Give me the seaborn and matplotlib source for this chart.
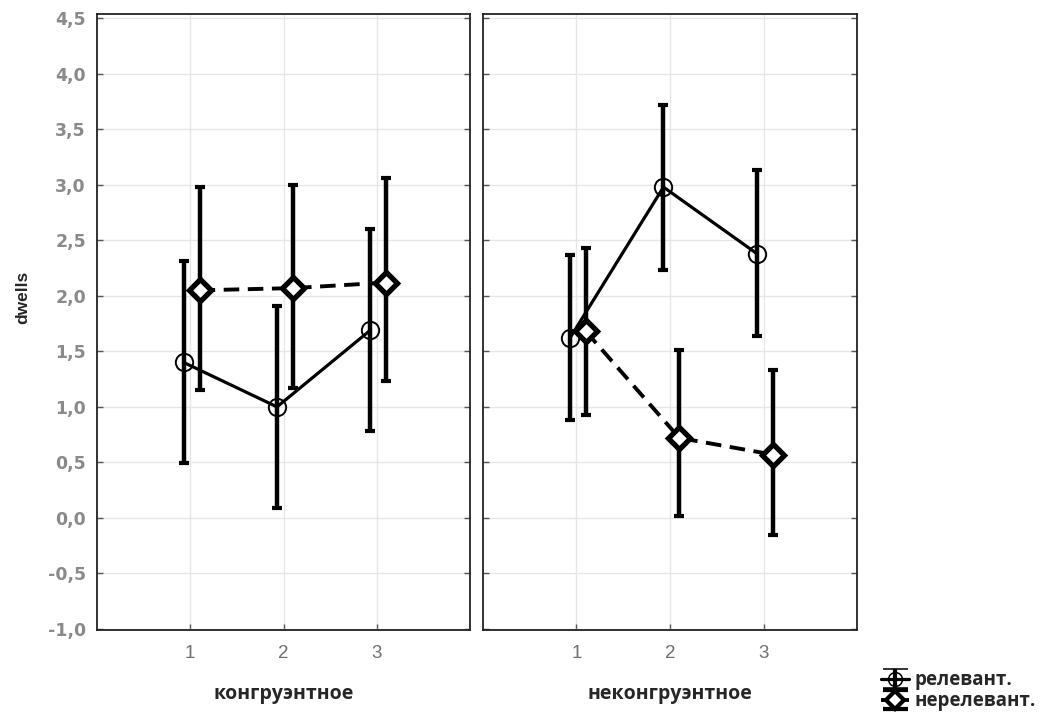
import numpy as np
import pandas as pd
import matplotlib
matplotlib.use("Agg")
import matplotlib.pyplot as plt
import seaborn as sns

# Conditions along the x axis and the two panels
levels = [1, 2, 3]
panels = ["конгруэнтное", "неконгруэнтное"]
groups = ["релевант.", "нерелевант."]

# Means and confidence limits (lower, upper) per panel and group
rel_cong_mean = [1.40, 1.00, 1.69]
rel_cong_low = [0.49, 0.09, 0.78]
rel_cong_high = [2.31, 1.91, 2.60]

irr_cong_mean = [2.05, 2.07, 2.12]
irr_cong_low = [1.15, 1.17, 1.23]
irr_cong_high = [2.98, 3.00, 3.06]

rel_incong_mean = [1.62, 2.98, 2.38]
rel_incong_low = [0.88, 2.23, 1.64]
rel_incong_high = [2.37, 3.72, 3.13]

irr_incong_mean = [1.68, 0.72, 0.57]
irr_incong_low = [0.93, 0.02, -0.15]
irr_incong_high = [2.43, 1.51, 1.33]

yticks = np.arange(-1.0, 4.51, 0.5)

rows = []
series = {
    (panels[0], groups[0]): (rel_cong_mean, rel_cong_low, rel_cong_high),
    (panels[0], groups[1]): (irr_cong_mean, irr_cong_low, irr_cong_high),
    (panels[1], groups[0]): (rel_incong_mean, rel_incong_low, rel_incong_high),
    (panels[1], groups[1]): (irr_incong_mean, irr_incong_low, irr_incong_high),
}
for (p, g), (m, lo, hi) in series.items():
    for lv, mv, lv_, hv in zip(levels, m, lo, hi):
        rows.append(dict(panel=p, group=g, level=lv, mean=mv, low=lv_, high=hv))
df = pd.DataFrame(rows)

sns.set_theme(style="whitegrid")
plt.rcParams["font.family"] = ["Liberation Sans", "DejaVu Sans"]
label_font = ["Open Sans", "DejaVu Sans"]

fig = plt.figure(figsize=(10.42, 7.18), dpi=100)
ax_l = fig.add_axes([0.0931, 0.1226, 0.358, 0.858])
ax_r = fig.add_axes([0.4635, 0.1226, 0.359, 0.858], sharey=ax_l)

styles = {
    groups[0]: dict(offset=-0.07, ls="-", lw=2.3, marker="o", ms=12.5,
                    mfc="none", mew=1.4),
    groups[1]: dict(offset=0.10, ls=(0, (4, 2.2)), lw=2.8, marker="D", ms=11,
                    mfc="white", mew=3.8),
}

for ax, p in zip([ax_l, ax_r], panels):
    sub = df[df.panel == p]
    for g in groups:
        st = styles[g]
        d = sub[sub.group == g].copy()
        d["xpos"] = d["level"] + st["offset"]
        ax.errorbar(d["xpos"], d["mean"],
                    yerr=[d["mean"] - d["low"], d["high"] - d["mean"]],
                    fmt="none", ecolor="black", elinewidth=3.2,
                    capsize=3.6, capthick=3.0, zorder=2)
        sns.lineplot(data=d, x="xpos", y="mean", ax=ax, color="black",
                     linestyle=st["ls"], linewidth=st["lw"],
                     marker=st["marker"], markersize=st["ms"],
                     markerfacecolor=st["mfc"], markeredgecolor="black",
                     markeredgewidth=st["mew"], zorder=3, legend=False)
    ax.set_xlim(0, 4)
    ax.set_ylim(-1.01, 4.54)
    ax.set_xticks(levels)
    ax.set_xticklabels([str(v) for v in levels])
    ax.set_yticks(yticks)
    ax.set_yticklabels([f"{v:.1f}".replace(".", ",") for v in yticks])
    ax.grid(True, color="#e6e6e6", linewidth=1.0)
    for s in ax.spines.values():
        s.set_visible(True)
        s.set_color("#222222")
        s.set_linewidth(1.3)
    ax.tick_params(axis="both", direction="in", length=4, width=1,
                   color="#555555", labelcolor="#6f6f6f")
    ax.tick_params(axis="y", left=True, right=True, pad=8)
    ax.tick_params(axis="x", bottom=True, pad=11, labelsize=13.5)
    ax.set_xlabel(p, fontsize=14, fontweight="bold", family=label_font,
                  labelpad=16)
    ax.set_ylabel("")

for lab in ax_l.get_yticklabels():
    lab.set_family(["DejaVu Sans"])
    lab.set_fontweight("bold")
    lab.set_fontsize(12.5)
    lab.set_color("#8a8a8a")
ax_r.tick_params(axis="y", labelleft=False)
ax_l.set_ylabel("dwells", fontsize=12.5, fontweight="bold")
ax_l.yaxis.set_label_coords(-0.178, 0.54)

# Legend glyphs: error bar with line and marker, as in the panels
handles = []
for g in groups:
    st = styles[g]
    h = ax_r.errorbar([np.nan], [np.nan], yerr=[[0.5], [0.5]], color="black",
                      linestyle=st["ls"], linewidth=st["lw"], marker=st["marker"],
                      markersize=st["ms"] * 0.8, markerfacecolor=st["mfc"],
                      markeredgecolor="black", markeredgewidth=st["mew"] * 0.8,
                      elinewidth=3, capsize=9, capthick=3)
    handles.append(h)
fig.legend(handles, groups, loc="lower left", bbox_to_anchor=(0.829, -0.014),
           frameon=False, handlelength=1.5, handletextpad=0.3, labelspacing=0.05,
           prop=dict(family=label_font, weight="bold", size=13.5))

fig.savefig("out.png", dpi=100, facecolor="white")
